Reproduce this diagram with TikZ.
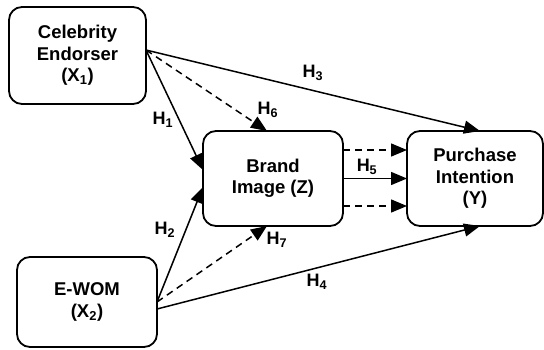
\documentclass[tikz,border=0pt]{standalone}
\usepackage{fontspec}
\setmainfont{Liberation Sans}
\usetikzlibrary{arrows.meta}
\begin{document}
\begin{tikzpicture}[x=1pt,y=1pt,
  box/.style={draw, line width=1.8pt, rounded corners=13pt, inner sep=0pt, outer sep=0pt,
    align=center, font=\fontsize{18.5}{21.5}\selectfont\bfseries},
  arr/.style={line width=1.5pt, -{Triangle[length=16pt,width=13pt]}},
  darr/.style={arr, dash pattern=on 7pt off 5pt},
  lbl/.style={inner sep=0pt, font=\fontsize{18}{20}\selectfont\bfseries}]
\useasboundingbox (0,0) rectangle (544,349);
\node[box, minimum width=137pt, minimum height=97pt] (x1) at (77.5,293.5) {Celebrity\\Endorser\\(X\textsubscript{1})};
\node[box, minimum width=140pt, minimum height=95pt] (z) at (273,170.5) {Brand\\Image (Z)};
\node[box, minimum width=136pt, minimum height=95pt] (y) at (475,170.5) {Purchase\\Intention\\(Y)};
\node[box, minimum width=140pt, minimum height=90pt] (x2) at (87,47) {E-WOM\\(X\textsubscript{2})};
% from X1
\draw[arr] ([yshift=5.5pt]x1.east) -- ([yshift=8.5pt]z.west);
\draw[darr] ([yshift=5.5pt]x1.east) -- ([xshift=-6pt]z.north);
\draw[arr] ([yshift=5.5pt]x1.east) -- ([xshift=5pt]y.north);
% from X2
\draw[arr] (x2.east) -- ([yshift=-8.5pt]z.west);
\draw[darr] (x2.east) -- ([xshift=-6pt]z.south);
\draw[arr] ([yshift=-7pt]x2.east) -- ([xshift=5pt]y.south);
% Z to Y
\draw[darr] ([yshift=28.5pt]z.east) -- ([yshift=28.5pt]y.west);
\draw[arr] ([yshift=0pt]z.east) -- ([yshift=0pt]y.west);
\draw[darr] ([yshift=-27.5pt]z.east) -- ([yshift=-27.5pt]y.west);
% labels
\node[lbl] (h1) at (163,229) {H\textsubscript{1}};
\node[lbl] (h2) at (165,119) {H\textsubscript{2}};
\node[lbl] (h3) at (313,276) {H\textsubscript{3}};
\node[lbl] (h4) at (317,67) {H\textsubscript{4}};
\node[lbl] (h5) at (367,182) {H\textsubscript{5}};
\node[lbl] (h6) at (268,239) {H\textsubscript{6}};
\node[lbl] (h7) at (277,109) {H\textsubscript{7}};
\end{tikzpicture}
\end{document}
